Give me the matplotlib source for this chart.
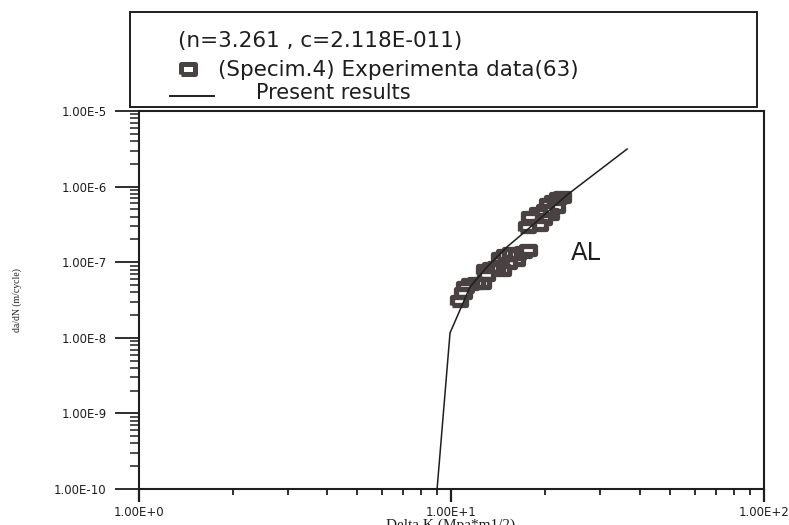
import matplotlib
matplotlib.use('Agg')
import matplotlib.pyplot as plt
from matplotlib.lines import Line2D
from matplotlib.markers import MarkerStyle
from matplotlib.patches import Rectangle

dk_exp = [22.62, 21.96, 21.16, 20.40, 21.63, 20.70, 19.95, 18.95, 19.66, 18.40,
          17.87, 19.09, 17.48,
          16.11, 15.19, 14.54, 14.32, 14.86, 15.53, 16.23, 16.96, 17.61,
          13.91, 13.41, 12.83, 12.92, 12.55, 12.00, 11.48, 11.07, 10.91, 10.59]
dadn_exp = [7.29e-7, 7.07e-7, 6.45e-7, 5.89e-7, 5.37e-7, 4.34e-7, 4.90e-7, 4.47e-7, 3.73e-7, 3.40e-7,
            3.96e-7, 3.10e-7, 2.92e-7,
            1.07e-7, 9.76e-8, 7.88e-8, 1.14e-7, 1.25e-7, 1.32e-7, 1.28e-7, 1.36e-7, 1.45e-7,
            8.64e-8, 8.38e-8, 7.88e-8, 6.77e-8, 5.31e-8, 5.31e-8, 5.15e-8, 4.70e-8, 3.91e-8, 3.07e-8]

# present results curve
dk_fit = [9.01, 9.91, 11.48, 13.02, 15.07, 17.47, 23.44, 36.5]
dadn_fit = [1.0e-10, 1.16e-8, 4.7e-8, 8.65e-8, 1.59e-7, 2.67e-7, 7.74e-7, 3.14e-6]

ytick_vals = [1e-10, 1e-9, 1e-8, 1e-7, 1e-6, 1e-5]
ytick_labels = ['1.00E-10', '1.00E-9', '1.00E-8', '1.00E-7', '1.00E-6', '1.00E-5']
xtick_vals = [1, 10, 100]
xtick_labels = ['1.00E+0', '1.00E+1', '1.00E+2']

ink = '#1e1e1e'
box_col = '#4a4242'
rect = MarkerStyle([(-1.7, -1), (1.7, -1), (1.7, 1), (-1.7, 1), (-1.7, -1)], joinstyle='miter')
rect_leg = MarkerStyle([(-1.6, -1), (1.6, -1), (1.6, 1), (-1.6, 1), (-1.6, -1)], joinstyle='miter')

plt.rcParams['font.family'] = ['DejaVu Sans']

fig = plt.figure(figsize=(7.89, 5.25), dpi=100)
W, H = 789.0, 525.0
ax = fig.add_axes([138.5 / W, 1 - 489 / H, (764 - 138.5) / W, (489 - 111) / H])

ax.plot(dk_exp, dadn_exp, ls='none', marker=rect, ms=10, mew=3.8,
        mec=box_col, mfc='white', zorder=2)
ax.plot(dk_fit, dadn_fit, color=ink, lw=1.1, zorder=3)

ax.set_xscale('log')
ax.set_yscale('log')
ax.set_xlim(1, 100)
ax.set_ylim(1e-10, 1e-5)
ax.set_xticks(xtick_vals)
ax.set_xticklabels(xtick_labels)
ax.set_yticks(ytick_vals)
ax.set_yticklabels(ytick_labels)
ax.tick_params(axis='both', which='both', direction='out', colors=ink, labelsize=8.5)
ax.tick_params(axis='y', which='major', length=17, width=1.3, pad=6)
ax.tick_params(axis='y', which='minor', length=6.5, width=1.1)
ax.tick_params(axis='x', which='major', length=9.5, width=1.6, pad=3)
ax.tick_params(axis='x', which='minor', length=4.5, width=1.3)
for s in ax.spines.values():
    s.set_linewidth(1.5)
    s.set_color(ink)

fig.text(586 / W, 1 - 253 / H, 'AL', fontsize=17.5, color=ink, ha='center', va='center')

fig.text(17.5 / W, 1 - 300 / H, 'da/dN (m/cycle)', rotation=90, fontsize=7,
         family='Liberation Serif', color=ink, ha='center', va='center')
fig.text(451 / W, 1 - 519 / H, 'Delta K (Mpa*m1/2)', fontsize=11,
         family='Liberation Serif', color=ink, ha='center', va='top')

# legend box above the axes
fig.add_artist(Rectangle((130 / W, 1 - 107 / H), 627 / W, 95 / H, transform=fig.transFigure,
                         fill=False, ec=ink, lw=1.4))
fig.text(178 / W, 1 - 41 / H, '(n=3.261 , c=2.118E-011)', fontsize=15.5, color=ink,
         ha='left', va='center')
fig.add_artist(Line2D([188 / W], [1 - 69 / H], transform=fig.transFigure, ls='none',
                      marker=rect_leg, ms=10.5, mew=3.6, mec=box_col, mfc='white'))
fig.text(218 / W, 1 - 70 / H, '(Specim.4) Experimenta data(63)', fontsize=15.5, color=ink,
         ha='left', va='center')
fig.add_artist(Line2D([170 / W, 214 / W], [1 - 96 / H, 1 - 96 / H], transform=fig.transFigure,
                      color=ink, lw=1.4))
fig.text(256 / W, 1 - 93 / H, 'Present results', fontsize=15, color=ink,
         ha='left', va='center')

fig.savefig('out.png', dpi=100)
